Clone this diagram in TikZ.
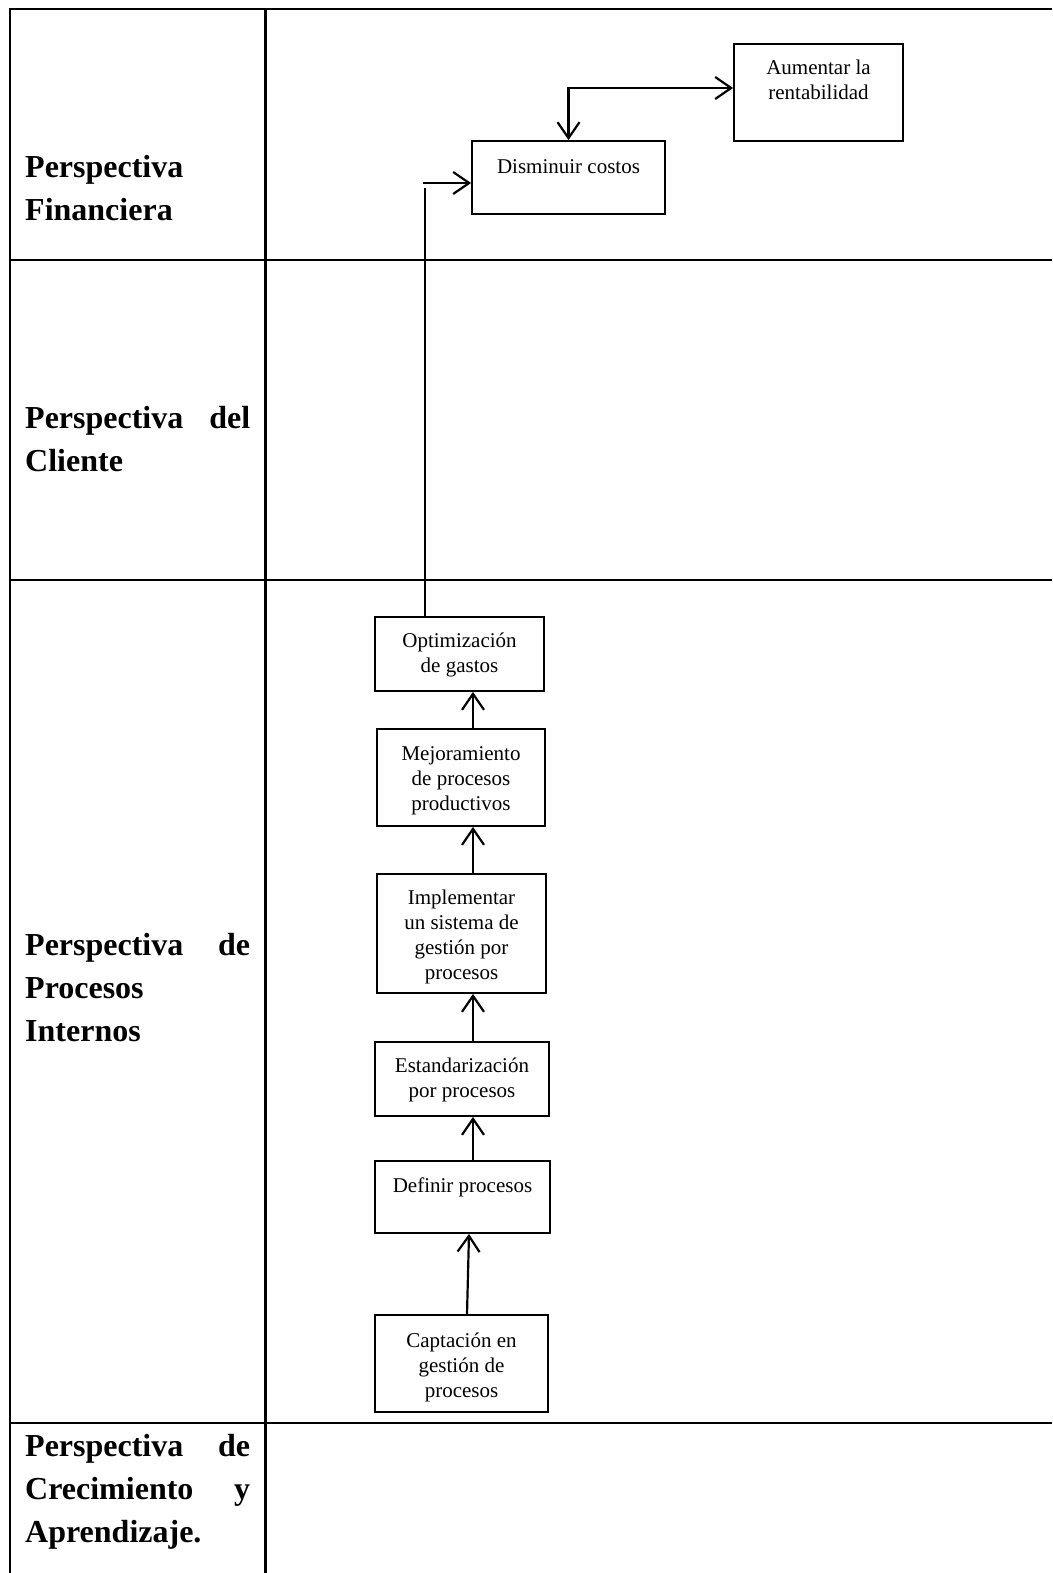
\documentclass[tikz,border=0pt]{standalone}
\usepackage{fontspec}
\setmainfont{Liberation Serif}
\usetikzlibrary{arrows.meta,calc}

% centred box text, baseline of the first line is the box baseline
\newcommand{\boxlines}[1]{\parbox[t]{170pt}{\centering #1}}
% perspective labels in the left column
\newcommand{\persplines}[1]{\parbox[t]{225pt}{#1}}

\begin{document}
\begin{tikzpicture}[x=1pt,y=-1pt,
  grid/.style={line width=2.4pt},
  obj/.style={draw, line width=1.8pt, inner sep=0pt},
  objtext/.style={anchor=base, inner sep=0pt, font=\fontsize{21}{25}\selectfont},
  persp/.style={anchor=base west, inner sep=0pt, font=\fontsize{32}{43}\selectfont\bfseries},
  tip/.tip={Straight Barb[length=16pt,width=22pt,line width=2.2pt]},
  link/.style={line width=2.2pt},
  arr/.style={link, -tip},
  arrboth/.style={link, tip-tip}
]
\useasboundingbox (0,0) rectangle (1052,1573);

% table frame
\draw[grid] (10,1573) -- (10,9) -- (1052,9);
\draw[grid] (265.5,9) -- (265.5,1573);
\draw[grid] (10,260) -- (1052,260);
\draw[grid] (10,580) -- (1052,580);
\draw[grid] (10,1423) -- (1052,1423);

% perspective labels
\node[persp] (pfin) at (25,178) {\persplines{Perspectiva\\Financiera}};
\node[persp] (pcli) at (25,428) {\persplines{Perspectiva\hfill del\\Cliente}};
\node[persp] (ppro) at (25,955) {\persplines{Perspectiva\hfill de\\Procesos\\Internos}};
\node[persp] (pcre) at (25,1456) {\persplines{Perspectiva\hfill de\\Crecimiento\hfill y\\Aprendizaje.}};

% objective boxes
\node[obj, minimum width=169pt, minimum height=97pt] (aum) at (818.5,92.5) {};
\node[obj, minimum width=193pt, minimum height=73pt] (dis) at (568.5,177.5) {};
\node[obj, minimum width=169pt, minimum height=74pt] (opt) at (459.5,654) {};
\node[obj, minimum width=168pt, minimum height=97pt] (mej) at (461,777.5) {};
\node[obj, minimum width=169pt, minimum height=119pt] (imp) at (461.5,933.5) {};
\node[obj, minimum width=174pt, minimum height=74pt] (est) at (462,1079) {};
\node[obj, minimum width=175pt, minimum height=72pt] (def) at (462.5,1197) {};
\node[obj, minimum width=173pt, minimum height=97pt] (cap) at (461.5,1363.5) {};

% box texts
\node[objtext] (taum) at ($(aum.north)+(0,31)$) {\boxlines{Aumentar la\\rentabilidad}};
\node[objtext] (tdis) at ($(dis.north)+(0,33)$) {\boxlines{Disminuir costos}};
\node[objtext] (topt) at ($(opt.north)+(0,31)$) {\boxlines{Optimización\\de gastos}};
\node[objtext] (tmej) at ($(mej.north)+(0,32)$) {\boxlines{Mejoramiento\\de procesos\\productivos}};
\node[objtext] (timp) at ($(imp.north)+(0,31)$) {\boxlines{Implementar\\un sistema de\\gestión por\\procesos}};
\node[objtext] (test) at ($(est.north)+(0,31)$) {\boxlines{Estandarización\\por procesos}};
\node[objtext] (tdef) at ($(def.north)+(0,32)$) {\boxlines{Definir procesos}};
\node[objtext] (tcap) at ($(cap.north)+(0,33)$) {\boxlines{Captación en\\gestión de\\procesos}};

% connectors inside the process chain
\coordinate (ax) at (473,0);
\draw[arr] ([xshift=5.5pt]cap.north) -- ([xshift=6.5pt]def.south);
\draw[arr] (def.north -| ax) -- (est.south -| ax);
\draw[arr] (est.north -| ax) -- (imp.south -| ax);
\draw[arr] (imp.north -| ax) -- (mej.south -| ax);
\draw[arr] (mej.north -| ax) -- (opt.south -| ax);

% link up to the financial perspective
\coordinate (up) at (425,188);
\coordinate (in) at (423,183);
\draw[link] (opt.north -| up) -- (up);
\draw[arr] (in) -- (dis.west |- in);

% two-way link between the financial objectives
\coordinate (bend) at (568.5,88);
\draw[arrboth] (dis.north) -- (dis.north |- bend) -- (aum.west |- bend);
\end{tikzpicture}
\end{document}
